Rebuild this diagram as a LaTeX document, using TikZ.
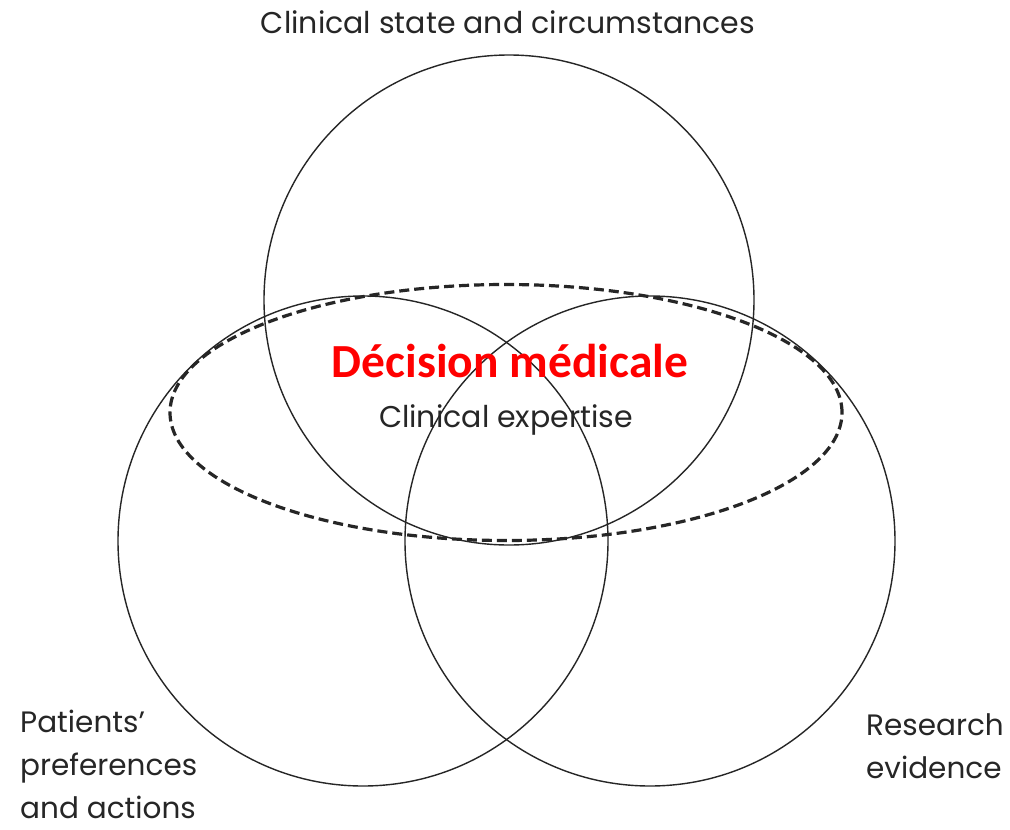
\documentclass[tikz,border=0pt]{standalone}
\usepackage{fontspec}
\setmainfont{Poppins}
\newfontfamily\calfont{Carlito}
\definecolor{txtgray}{HTML}{262626}
\definecolor{decred}{HTML}{FF0000}
\tikzset{
  ring/.style={draw=black!85, line width=1.4pt},
  dashring/.style={draw=black!85, line width=3.2pt, dash pattern=on 10pt off 5pt},
  lbl/.style={text=txtgray, font=\fontsize{29.5}{34}\selectfont, inner sep=0pt},
}
\begin{document}
\begin{tikzpicture}[x=1pt,y=-1pt]
\useasboundingbox[fill=white] (0,0) rectangle (1010,830);
\coordinate (ct) at (509,300);
\coordinate (cl) at (363,541);
\coordinate (cr) at (650,541);
\coordinate (ce) at (506,412.5);
\draw[ring] (ct) circle[radius=245pt];
\draw[ring] (cl) circle[radius=245pt];
\draw[ring] (cr) circle[radius=245pt];
\draw[dashring] (ce) ellipse[x radius=336pt, y radius=128pt];
\node[lbl, anchor=base, font=\fontsize{30}{34}\selectfont] (top) at (508,33) {Clinical state and circumstances};
\node[lbl, anchor=base, font=\fontsize{30}{34}\selectfont] (exp) at (506,427) {Clinical expertise};
\node[inner sep=0pt, anchor=base, text=decred, font=\calfont\bfseries\fontsize{47.5}{54}\selectfont] (dec) at (510,377) {Décision médicale};
\node[lbl, anchor=base west] (pat) at (20,732) {Patients’};
\node[lbl, anchor=base west] (pat2) at (20,775) {preferences};
\node[lbl, anchor=base west] (pat3) at (20,818) {and actions};
\node[lbl, anchor=base west] (res) at (866,735) {Research};
\node[lbl, anchor=base west] (res2) at (866,778) {evidence};
\end{tikzpicture}
\end{document}
